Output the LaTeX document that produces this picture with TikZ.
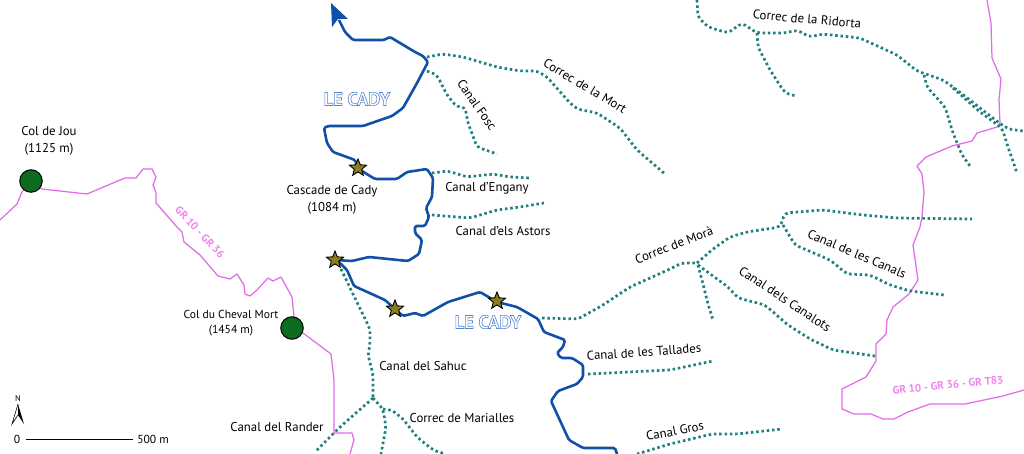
\documentclass[tikz,border=0pt]{standalone}
\usepackage{fontspec}
\setmainfont{PT Sans}
\usetikzlibrary{shapes.geometric}
\definecolor{rivercol}{HTML}{1050A8}
\definecolor{creekcol}{HTML}{1F8080}
\definecolor{trailcol}{HTML}{E06CE8}
\definecolor{trailtxt}{HTML}{EE85EE}
\definecolor{cadycol}{HTML}{5585CC}
\definecolor{starcol}{HTML}{8C7D1E}
\definecolor{colcol}{HTML}{0C6B1F}
\newcommand{\outlined}[1]{\special{pdf:code 1 Tr 0.6 w}#1\special{pdf:code 0 Tr}}
\tikzset{
  river/.style={draw=rivercol,line width=2.6pt,rounded corners=1.5pt,line join=round},
  creek/.style={draw=creekcol,line width=2.7pt,dash pattern=on 2.5pt off 2.8pt,rounded corners=4pt},
  trail/.style={draw=trailcol,line width=1.25pt,line join=round},
  maplabel/.style={inner sep=0pt,align=center,font=\fontsize{12.8}{16.5}\selectfont},
  smalllabel/.style={maplabel,font=\fontsize{11.6}{15}\selectfont},
  traillabel/.style={inner sep=0pt,text=trailtxt,font=\bfseries\fontsize{11}{12}\selectfont},
  cadylabel/.style={inner sep=0pt,text=cadycol,font=\bfseries\fontsize{18.5}{20}\selectfont},
  starmark/.style={star,star points=5,star point ratio=2.3,minimum size=18pt,inner sep=0pt,
    draw=black,line width=0.9pt,fill=starcol},
  colmark/.style={circle,minimum size=22.5pt,inner sep=0pt,draw=black,line width=1pt,fill=colcol}
}
\begin{document}
\begin{tikzpicture}[x=1pt,y=-1pt]
  \useasboundingbox (0,0) rectangle (1024,454);
  % walking trail
  \draw[trail] (0,220) -- (17,204) -- (22,192) -- (31,181) -- (42,189) -- (87,194) -- (113,183) -- (125,178)
    -- (136,178) -- (143,169) -- (152,169) -- (156,177) -- (153,185) -- (156,193) -- (156,203) -- (177,227)
    -- (182,232) -- (184,242) -- (200,255) -- (218,276) -- (230,279) -- (237,274) -- (244,285) -- (245,294)
    -- (250,296) -- (257,290) -- (268,278) -- (273,281) -- (281,277) -- (292,297) -- (294,316) -- (292,328)
    -- (303,333) -- (331,354) -- (334,380) -- (334,433) -- (352,433) -- (354,440) -- (350,454);
  \draw[trail] (987,0) -- (991,23) -- (992,58) -- (1001,79) -- (999,100) -- (1000,123) -- (997,127) -- (977,133)
    -- (972,141) -- (952,146) -- (926,157) -- (917,166) -- (922,174) -- (924,192) -- (922,217) -- (920,227)
    -- (913,245) -- (918,280) -- (909,294) -- (893,307) -- (887,320) -- (886,334) -- (876,344) -- (876,361)
    -- (866,377) -- (842,389) -- (842,409) -- (854,414) -- (871,414) -- (883,419) -- (894,419) -- (908,412)
    -- (930,404) -- (965,404) -- (1003,396) -- (1024,390);
  % side streams
  \draw[creek] (427,71) -- (437,75) -- (447,95) -- (457,107) -- (465,107) -- (468,123) -- (477,147) -- (497,154);
  \draw[creek] (427,57) -- (443,54) -- (463,57) -- (497,67) -- (520,71) -- (537,71) -- (547,77) -- (570,103)
    -- (577,109) -- (597,113) -- (620,128) -- (637,150) -- (665,174);
  \draw[creek] (432,173) -- (448,171) -- (467,177) -- (493,174) -- (510,177) -- (530,178);
  \draw[creek] (432,215) -- (470,218) -- (497,210) -- (520,207) -- (544,203);
  \draw[creek] (341,269) -- (353,294) -- (370,329) -- (370,344) -- (368,355) -- (373,374) -- (373,397);
  \draw[creek] (373,398) -- (340,427) -- (315,452);
  \draw[creek] (373,398) -- (383,409) -- (386,427) -- (381,454);
  \draw[creek] (383,409) -- (392,410) -- (403,419) -- (417,437) -- (433,450) -- (445,454);
  \draw[creek] (542,318) -- (578,319) -- (603,305) -- (630,287) -- (670,269) -- (682,263) -- (697,263);
  \draw[creek] (697,263) -- (713,249) -- (730,237) -- (747,232) -- (780,227) -- (785,213) -- (823,210)
    -- (863,215) -- (897,218) -- (972,219);
  \draw[creek] (783,225) -- (795,245) -- (830,260) -- (847,274) -- (870,275) -- (890,285) -- (910,291) -- (944,295);
  \draw[creek] (698,265) -- (703,284) -- (708,304) -- (713,320);
  \draw[creek] (698,265) -- (728,287) -- (738,298) -- (765,305) -- (788,325) -- (810,339) -- (833,350) -- (875,356);
  \draw[creek] (588,374) -- (670,370) -- (713,361);
  \draw[creek] (637,454) -- (670,444) -- (712,434) -- (737,434) -- (782,429);
  \draw[creek] (697,0) -- (698,17) -- (708,27) -- (728,33) -- (742,23) -- (757,33) -- (785,33) -- (797,30)
    -- (810,37) -- (822,34) -- (860,38) -- (897,55) -- (917,71) -- (943,80) -- (957,90) -- (998,122)
    -- (1008,129) -- (1023,131);
  \draw[creek] (757,33) -- (758,47) -- (770,70) -- (785,93) -- (796,96);
  \draw[creek] (924,75) -- (927,87) -- (945,107) -- (953,133) -- (962,155) -- (970,166);
  \draw[creek] (953,88) -- (980,112) -- (995,123) -- (1002,128) -- (1008,147) -- (1017,173);
  % the river
  \draw[river] (339,20) -- (345,32) -- (353,40) -- (384,40) -- (390,37) -- (415,52) -- (423,56) -- (428,62)
    -- (417,83) -- (403,108) -- (392,116) -- (363,126) -- (328,126) -- (324,128) -- (327,143) -- (333,152)
    -- (355,160) -- (358,168) -- (365,173) -- (375,179) -- (397,179) -- (407,172) -- (427,169) -- (433,178)
    -- (432,197) -- (426,208) -- (429,217) -- (425,226) -- (415,226) -- (415,233) -- (422,240) -- (419,254)
    -- (408,261) -- (369,257) -- (352,261) -- (335,260);
  \draw[river] (335,260) -- (340,263) -- (347,270) -- (354,286) -- (385,300) -- (395,309) -- (403,316)
    -- (415,313) -- (423,316) -- (448,302) -- (480,292) -- (497,302) -- (517,307) -- (538,319) -- (544,332)
    -- (565,340) -- (563,347) -- (557,353) -- (561,358) -- (572,358) -- (583,365) -- (583,377) -- (577,384)
    -- (558,391) -- (551,401) -- (569,440) -- (583,448) -- (615,448) -- (617,454);
  \fill[rivercol] (331,3) -- (348,19) -- (338,19) -- (332,27) -- cycle;
  % markers
  \foreach \name/\p in {cascade/{358,168}, upper/{335,260}, middle/{395,309}, lower/{497,301}} {
    \node[starmark] (star\name) at (\p) {};
  }
  \node[colmark] (coljou) at (31,181) {};
  \node[colmark] (colcheval) at (292,328) {};
  % place names
  \draw (49,141) node[maplabel] (lbljou) {Col de Jou\\(1125 m)};
  \draw (332,200) node[maplabel] (lblcascade) {Cascade de Cady\\(1084 m)};
  \draw (231,323) node[smalllabel] (lblcheval) {Col du Cheval Mort\\(1454 m)};
  % stream names
  \draw (477,105) node[maplabel,rotate=-55] (lblfosc) {Canal Fosc};
  \draw (585,86) node[maplabel,rotate=-31] (lblmort) {Correc de la Mort};
  \draw (487,188) node[maplabel] (lblengany) {Canal d’Engany};
  \draw (503,231) node[maplabel] (lblastors) {Canal d’els Astors};
  \draw (423,366) node[maplabel] (lblsahuc) {Canal del Sahuc};
  \draw (462,418) node[maplabel] (lblmarialles) {Correc de Marialles};
  \draw (277,427) node[maplabel] (lblrander) {Canal del Rander};
  \draw (644,352) node[maplabel,rotate=4] (lbltallades) {Canal de les Tallades};
  \draw (674,245) node[maplabel,rotate=21] (lblmora) {Correc de Morà};
  \draw (807,19) node[maplabel,rotate=-5] (lblridorta) {Correc de la Ridorta};
  \draw (857,254) node[maplabel,rotate=-23] (lblcanals) {Canal de les Canals};
  \draw (785,299) node[maplabel,rotate=-33.5] (lblcanalots) {Canal dels Canalots};
  \draw (675,431) node[maplabel,rotate=11] (lblgros) {Canal Gros};
  % river and trail names
  \draw (357,99) node[cadylabel] (lblcady) {\outlined{LE CADY}};
  \draw (488,322) node[cadylabel] (lblcadyb) {\outlined{LE CADY}};
  \draw (200,232) node[traillabel,rotate=-47] (lblgr) {GR 10 - GR 36};
  \draw (948,385) node[traillabel,rotate=5.6] (lblgrb) {GR 10 - GR 36 - GR T83};
  % north and scale
  \draw (18,399) node[inner sep=0pt,font=\fontsize{8.5}{8.5}\selectfont] (north) {N};
  \draw[black,line width=0.6pt,line join=miter] (18,404) -- (12,424) -- (18,415);
  \fill[black] (18,404) -- (24,424) -- (18,415) -- cycle;
  \draw (17,439) node[smalllabel] (scalezero) {0};
  \draw (153,439) node[smalllabel] (scaleend) {500 m};
  \draw[line width=1pt] (scalezero.center) ++(9,0) -- (133,439);
\end{tikzpicture}
\end{document}
